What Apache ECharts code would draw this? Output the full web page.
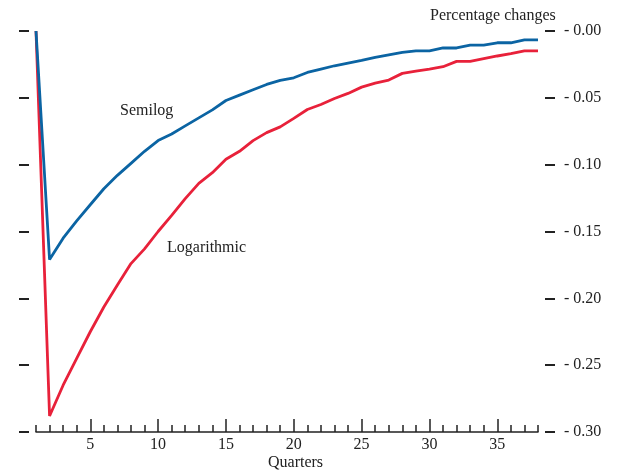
<!DOCTYPE html>
<html>
<head>
<meta charset="utf-8">
<script src="https://cdn.jsdelivr.net/npm/echarts@6/dist/echarts.min.js"></script>
<style>
  html, body { margin: 0; padding: 0; background: #fff; }
  #chart { width: 634px; height: 476px; }
</style>
</head>
<body>
<div id="chart"></div>
<script>
// quarters 1..38
var quarters = [];
for (var q = 1; q <= 38; q++) quarters.push(q);

// percentage changes
var semilog = [0, -0.171, -0.155, -0.142, -0.130, -0.118, -0.108, -0.099, -0.090, -0.082,
    -0.077, -0.071, -0.065, -0.059, -0.052, -0.048, -0.044, -0.040, -0.037, -0.035,
    -0.031, -0.0285, -0.026, -0.024, -0.022, -0.0197, -0.0178, -0.016, -0.0148, -0.0148,
    -0.0127, -0.0127, -0.0105, -0.0105, -0.0088, -0.0088, -0.0067, -0.0067];
var logarithmic = [0, -0.288, -0.265, -0.245, -0.225, -0.2065, -0.190, -0.174, -0.163, -0.150,
    -0.138, -0.1254, -0.114, -0.106, -0.096, -0.090, -0.082, -0.076, -0.0717, -0.0654,
    -0.0587, -0.055, -0.0505, -0.0467, -0.042, -0.039, -0.0367, -0.0317, -0.030, -0.0285,
    -0.0267, -0.0227, -0.0227, -0.0207, -0.0187, -0.017, -0.0148, -0.0148];

var xLabelTicks = [5, 10, 15, 20, 25, 30, 35];

var font = '"Liberation Serif", "Times New Roman", serif';
var ink = '#222';

function pairs(vals) {
    return quarters.map(function (q, i) { return [q, vals[i]]; });
}

var plotBox = { left: 36, right: 96, top: 31, bottom: 44 };

var chart = echarts.init(document.getElementById('chart'));
var option = {
    animation: false,
    // second grid sits on top of the first one, only for the long ticks
    grid: [Object.assign({}, plotBox), Object.assign({}, plotBox)],
    xAxis: [{
        type: 'value',
        gridIndex: 0,
        min: 1,
        max: 38,
        interval: 1,
        axisLine: { show: true, onZero: false, lineStyle: { color: ink, width: 1.5 } },
        axisTick: { show: true, inside: true, length: 7, lineStyle: { color: ink, width: 1.5 } },
        axisLabel: {
            customValues: xLabelTicks,
            margin: 5,
            fontFamily: font,
            fontSize: 16,
            color: ink
        },
        splitLine: { show: false }
    }, {
        type: 'value',
        gridIndex: 1,
        position: 'bottom',
        min: 1,
        max: 38,
        axisLine: { show: false, onZero: false },
        axisTick: { show: true, inside: true, length: 13, customValues: xLabelTicks, lineStyle: { color: ink, width: 1.5 } },
        axisLabel: { show: false },
        splitLine: { show: false }
    }],
    yAxis: [{
        type: 'value',
        gridIndex: 0,
        position: 'right',
        offset: 7,
        min: -0.30,
        max: 0,
        interval: 0.05,
        axisLine: { show: false },
        axisTick: { show: true, length: 10, lineStyle: { color: ink, width: 2 } },
        axisLabel: {
            margin: 19,
            fontFamily: font,
            fontSize: 16,
            color: ink,
            formatter: function (v) { return '- ' + Math.abs(v).toFixed(2); }
        },
        splitLine: { show: false }
    }, {
        type: 'value',
        gridIndex: 1,
        position: 'left',
        offset: 7,
        min: -0.30,
        max: 0,
        interval: 0.05,
        axisLine: { show: false },
        axisTick: { show: true, length: 10, lineStyle: { color: ink, width: 2 } },
        axisLabel: { show: false },
        splitLine: { show: false }
    }],
    graphic: [
        { type: 'text', left: 430, top: 8, style: { text: 'Percentage changes', font: '16px ' + font, fill: ink } },
        { type: 'text', left: 120, top: 103, style: { text: 'Semilog', font: '16px ' + font, fill: ink } },
        { type: 'text', left: 167, top: 240, style: { text: 'Logarithmic', font: '16px ' + font, fill: ink } },
        { type: 'text', left: 268, top: 455, style: { text: 'Quarters', font: '16px ' + font, fill: ink } }
    ],
    series: [{
        name: 'Logarithmic',
        type: 'line',
        xAxisIndex: 0,
        yAxisIndex: 0,
        data: pairs(logarithmic),
        showSymbol: false,
        lineStyle: { color: '#e8213a', width: 2.8 },
        z: 2
    }, {
        name: 'Semilog',
        type: 'line',
        xAxisIndex: 0,
        yAxisIndex: 0,
        data: pairs(semilog),
        showSymbol: false,
        lineStyle: { color: '#0b64a3', width: 2.8 },
        z: 3
    }]
};
chart.setOption(option);
</script>
</body>
</html>
